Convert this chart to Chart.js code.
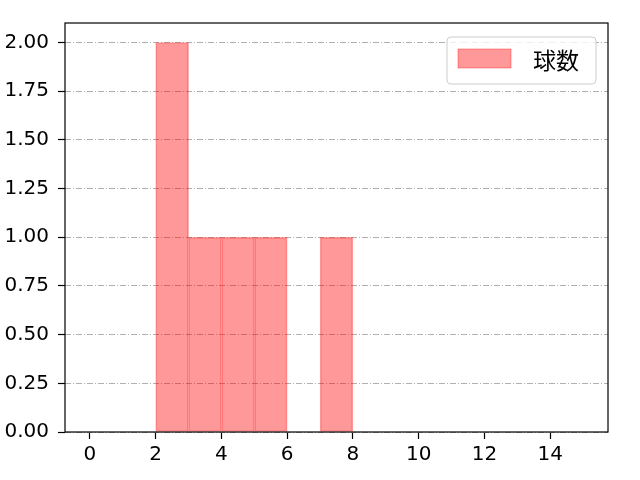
<!DOCTYPE html>
<html>
<head>
<meta charset="utf-8">
<script src="https://cdn.jsdelivr.net/npm/chart.js@4/dist/chart.umd.min.js"></script>
<style>
  html, body { margin: 0; padding: 0; background: #fff; }
  #wrap { width: 640px; height: 480px; }
</style>
</head>
<body>
<div id="wrap"><canvas id="histChart" width="640" height="480"></canvas></div>
<script>
// histogram bins (left edges) and counts
const binStarts = [0, 1, 2, 3, 4, 5, 6, 7, 8, 9, 10, 11, 12, 13, 14];
const binCounts = [0, 0, 2, 1, 1, 1, 0, 1, 0, 0, 0, 0, 0, 0, 0];
const seriesLabel = '球数';
const xTicks = [0, 2, 4, 6, 8, 10, 12, 14];
const yTicks = [0, 0.25, 0.5, 0.75, 1.0, 1.25, 1.5, 1.75, 2.0];

const FONT = "'DejaVu Sans', sans-serif";
const CJK_FONT = "'Noto Sans CJK JP', sans-serif";
const barFill = 'rgba(255, 0, 0, 0.4)';
const barEdge = 'rgba(255, 0, 0, 0.35)';

const points = binStarts
  .map((s, i) => ({ x: s + 0.5, y: binCounts[i] }))
  .filter(p => p.y > 0);

// frame + legend drawn inside the plot area, matplotlib style
const framePlugin = {
  id: 'frame',
  afterDraw(chart) {
    const { ctx, chartArea: a } = chart;
    ctx.save();
    ctx.strokeStyle = '#000';
    ctx.lineWidth = 1.2;
    ctx.strokeRect(a.left, a.top, a.right - a.left, a.bottom - a.top);

    // legend box
    const bx = a.right - 161, by = a.top + 14, bw = 149, bh = 47;
    ctx.beginPath();
    ctx.roundRect(bx, by, bw, bh, 4);
    ctx.fillStyle = 'rgba(255,255,255,0.8)';
    ctx.fill();
    ctx.strokeStyle = '#cccccc';
    ctx.lineWidth = 1;
    ctx.stroke();

    ctx.fillStyle = barFill;
    ctx.fillRect(bx + 11, by + 12, 53, 19);
    ctx.strokeStyle = barEdge;
    ctx.strokeRect(bx + 11, by + 12, 53, 19);

    ctx.fillStyle = '#000';
    ctx.font = '23px ' + CJK_FONT;
    ctx.textBaseline = 'middle';
    ctx.textAlign = 'left';
    ctx.fillText(seriesLabel, bx + 86, by + 23);
    ctx.restore();
  }
};

new Chart(document.getElementById('histChart'), {
  type: 'bar',
  data: {
    datasets: [{
      label: seriesLabel,
      data: points,
      backgroundColor: barFill,
      borderColor: barEdge,
      borderWidth: 1,
      borderSkipped: false,
      barPercentage: 1.0,
      categoryPercentage: 1.0,
      grouped: false
    }]
  },
  options: {
    responsive: false,
    animation: false,
    layout: { padding: { left: 0, top: 23, right: 32, bottom: 0 } },
    plugins: {
      legend: { display: false },
      tooltip: { enabled: false }
    },
    scales: {
      x: {
        type: 'linear',
        offset: false,
        min: -0.76,
        max: 15.76,
        afterBuildTicks: scale => { scale.ticks = xTicks.map(v => ({ value: v })); },
        afterFit: scale => { scale.height = 48; },
        grid: { offset: false, drawOnChartArea: false, drawTicks: true, tickLength: 7, tickColor: '#000', tickWidth: 1.2 },
        border: { display: false },
        ticks: { color: '#000', font: { family: FONT, size: 20 }, padding: 4, maxRotation: 0, autoSkip: false }
      },
      y: {
        min: 0,
        max: 2.1,
        z: 1,
        afterBuildTicks: scale => { scale.ticks = yTicks.map(v => ({ value: v })); },
        afterFit: scale => { scale.width = 65; },
        grid: { color: '#b0b0b0', lineWidth: 1, drawTicks: true, tickLength: 7, tickColor: '#000', tickWidth: 1.2 },
        border: { display: false, dash: [6, 2, 1, 2] },
        ticks: {
          color: '#000',
          font: { family: FONT, size: 20 },
          padding: 9,
          autoSkip: false,
          callback: v => Number(v).toFixed(2)
        }
      }
    }
  },
  plugins: [framePlugin]
});
</script>
</body>
</html>
